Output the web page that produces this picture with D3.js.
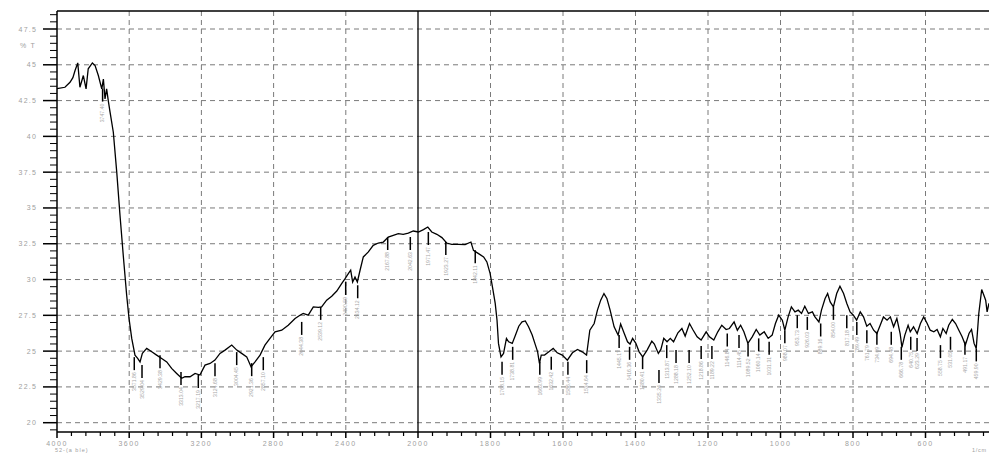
<!DOCTYPE html>
<html>
<head>
<meta charset="utf-8">
<script src="https://cdn.jsdelivr.net/npm/d3@7"></script>
<style>
  html, body { margin: 0; padding: 0; background: #fff; }
  svg { display: block; font-family: "Liberation Sans", Arial, sans-serif; }
</style>
</head>
<body>
<svg id="chart" width="989" height="453"></svg>
<script>
// IR transmittance spectrum: wavenumber (1/cm) vs %T
const wavenumbers = [
  4000, 3956, 3928, 3912, 3900, 3885, 3873, 3854, 3839, 3827, 3804, 3789, 3771, 3752, 3743, 3734, 3725, 3716, 3706, 3688,
  3669, 3651, 3633, 3614, 3601, 3586, 3568, 3553, 3540, 3527, 3503, 3475, 3448, 3420, 3392, 3365, 3337, 3309, 3291, 3263,
  3235, 3208, 3180, 3152, 3125, 3097, 3069, 3032, 3004, 2977, 2949, 2925, 2903, 2875, 2848, 2820, 2792, 2755, 2719, 2681,
  2654, 2636, 2608, 2580, 2552, 2534, 2506, 2478, 2450, 2423, 2404, 2386, 2373, 2362, 2349, 2336, 2321, 2303, 2275, 2248,
  2220, 2192, 2165, 2137, 2109, 2082, 2054, 2026, 1999, 1985, 1973, 1962, 1948, 1934, 1921, 1907, 1888, 1870, 1854, 1847,
  1833, 1819, 1810, 1801, 1793, 1787, 1782, 1778, 1771, 1764, 1756, 1750, 1740, 1731, 1722, 1713, 1704, 1695, 1685, 1676,
  1670, 1665, 1660, 1651, 1639, 1627, 1616, 1602, 1588, 1574, 1560, 1547, 1535, 1526, 1514, 1505, 1496, 1487, 1479, 1470,
  1459, 1448, 1441, 1431, 1422, 1415, 1408, 1399, 1390, 1380, 1368, 1355, 1348, 1337, 1330, 1322, 1313, 1304, 1295, 1283,
  1272, 1263, 1251, 1242, 1230, 1219, 1205, 1196, 1184, 1173, 1162, 1150, 1141, 1128, 1119, 1110, 1101, 1090, 1078, 1067,
  1057, 1045, 1034, 1023, 1014, 1005, 995, 988, 979, 970, 960, 951, 942, 933, 923, 912, 905, 894, 887, 877,
  870, 863, 854, 845, 836, 826, 817, 808, 799, 790, 780, 771, 762, 753, 743, 734, 725, 716, 706, 697,
  688, 679, 670, 665, 657, 648, 642, 633, 623, 614, 605, 596, 587, 577, 568, 559, 552, 543, 536, 526,
  517, 508, 499, 490, 480, 473, 466, 460, 453, 445, 439, 434, 430, 425, 421, 416
];
const transmittance = [
  43.33, 43.43, 43.78, 44.10, 44.60, 45.13, 43.43, 44.25, 43.32, 44.72, 45.13, 44.95, 44.25, 43.32, 44.00, 42.62, 43.32, 42.50, 41.69, 40.29,
  37.50, 34.49, 31.70, 28.90, 27.28, 25.89, 24.72, 24.49, 24.25, 24.84, 25.19, 24.95, 24.72, 24.49, 24.25, 23.79, 23.44, 23.10, 23.21, 23.21,
  23.44, 23.33, 24.02, 24.14, 24.37, 24.84, 25.07, 25.42, 25.07, 24.84, 24.60, 23.90, 24.25, 24.72, 25.42, 25.89, 26.35, 26.46, 26.81, 27.28,
  27.51, 27.63, 27.51, 28.09, 28.05, 28.09, 28.56, 28.84, 29.20, 29.72, 30.07, 30.42, 30.65, 29.83, 30.18, 29.83, 30.65, 31.58, 31.93, 32.39,
  32.55, 32.62, 32.97, 33.09, 33.21, 33.16, 33.25, 33.39, 33.32, 33.49, 33.67, 33.32, 33.16, 32.93, 32.55, 32.46, 32.46, 32.44, 32.62, 32.04,
  31.81, 31.58, 31.23, 30.42, 29.25, 28.33, 27.16, 25.54, 24.60, 24.84, 25.89, 25.65, 25.54, 26.12, 26.74, 27.04, 27.11, 26.70, 26.12, 25.42,
  24.95, 24.14, 24.72, 24.72, 24.95, 25.19, 24.88, 24.72, 24.37, 24.88, 25.12, 24.95, 24.72, 26.46, 26.93, 27.86, 28.56, 29.02, 28.68, 27.86,
  26.70, 26.12, 26.90, 26.23, 25.65, 25.49, 25.89, 25.54, 24.95, 24.60, 25.07, 25.70, 25.49, 24.84, 25.12, 25.89, 25.65, 25.89, 25.65, 26.28,
  26.58, 26.05, 26.93, 26.51, 26.00, 25.77, 26.35, 26.00, 25.77, 26.35, 26.81, 26.51, 26.58, 27.04, 26.46, 26.81, 26.35, 25.54, 26.00, 26.51,
  26.12, 26.35, 25.89, 26.12, 26.93, 27.51, 27.16, 26.46, 27.39, 28.09, 27.74, 27.86, 27.63, 28.14, 27.63, 27.74, 27.39, 27.04, 27.86, 28.68,
  29.02, 28.44, 28.09, 29.02, 29.53, 29.02, 28.33, 27.74, 27.51, 27.16, 27.74, 27.39, 26.74, 26.93, 26.46, 26.23, 26.81, 27.39, 27.16, 27.39,
  26.70, 27.28, 26.23, 25.26, 26.12, 26.81, 26.35, 26.70, 26.23, 26.93, 27.39, 26.97, 26.46, 26.35, 26.51, 26.00, 26.58, 26.23, 26.81, 27.21,
  26.93, 26.46, 26.00, 25.42, 26.23, 26.51, 25.54, 25.19, 27.63, 29.30, 28.90, 28.56, 27.74, 28.33, 27.98, 25.00
];

// picked peaks: position and %T at the marker
const peakWavenumbers = [
  3747.40, 3571.86, 3529.04, 3429.38, 3313.04, 3217.19, 3124.68, 3004.45, 2921.36, 2857.10,
  2644.38, 2539.12, 2400.59, 2334.12, 2167.88, 2042.63, 1971.47, 1923.27, 1842.11, 1768.15,
  1738.81, 1663.99, 1632.42, 1586.44, 1534.64, 1445.17, 1416.36, 1380.41, 1335.24, 1313.87,
  1288.18, 1252.10, 1218.86, 1189.22, 1146.84, 1114.45, 1089.52, 1060.14, 1031.31, 988.07,
  953.73, 926.03, 889.16, 854.00, 817.18, 789.49, 761.79, 734.09, 694.48, 666.78,
  640.75, 623.29, 558.75, 531.05, 491.17, 459.90
];
const peakTransmittance = [
  43.34, 24.58, 24.03, 24.72, 23.54, 23.33, 24.16, 24.93, 24.16, 24.58,
  27.04, 28.09, 29.83, 29.60, 32.97, 32.97, 33.32, 32.62, 32.04, 24.25,
  25.30, 24.25, 24.60, 24.25, 24.37, 26.12, 25.30, 24.65, 23.68, 25.42,
  25.07, 25.07, 25.35, 25.35, 26.23, 26.12, 25.54, 25.89, 25.65, 26.46,
  27.51, 27.39, 26.93, 28.09, 27.51, 27.04, 26.46, 26.35, 26.35, 25.30,
  26.00, 25.91, 25.42, 26.00, 25.65, 25.19
];

const xMajorTicks = [4000, 3600, 3200, 2800, 2400, 2000, 1800, 1600, 1400, 1200, 1000, 800, 600];
const yMajorTicks = [20, 22.5, 25, 27.5, 30, 32.5, 35, 37.5, 40, 42.5, 45, 47.5];
const yAxisTitle = "% T";
const xAxisTitle = "1/cm";
const sampleName = "52-(a ble)";

const svg = d3.select("#chart");
const W = 989, H = 453;
const plotLeft = 57, plotTop = 11, plotBottom = 432;

// wavenumber axis is expanded 2x below 2000 1/cm
const x = d3.scaleLinear().domain([4000, 2000, 400]).range([57, 418, 998]);
const y = d3.scaleLinear().domain([20, 47.5]).range([422.7, 29]);

const gridColor = "#7a7a7a";
const labelColor = "#a0a0a0";

// grid
const grid = svg.append("g");
grid.selectAll("line.hg").data(yMajorTicks).join("line")
  .attr("x1", plotLeft).attr("x2", W)
  .attr("y1", d => y(d)).attr("y2", d => y(d))
  .attr("stroke", gridColor).attr("stroke-width", 1).attr("stroke-dasharray", "5,4");
grid.selectAll("line.vg").data(xMajorTicks.filter(d => d !== 4000 && d !== 2000)).join("line")
  .attr("x1", d => x(d)).attr("x2", d => x(d))
  .attr("y1", plotTop).attr("y2", plotBottom)
  .attr("stroke", gridColor).attr("stroke-width", 1).attr("stroke-dasharray", "5,4");
// solid divider where the scale changes
svg.append("line")
  .attr("x1", x(2000)).attr("x2", x(2000)).attr("y1", plotTop).attr("y2", plotBottom)
  .attr("stroke", "#000").attr("stroke-width", 1.3);

// frame
svg.append("line").attr("x1", plotLeft).attr("x2", W).attr("y1", plotTop).attr("y2", plotTop)
  .attr("stroke", "#000").attr("stroke-width", 1.5);
svg.append("line").attr("x1", plotLeft).attr("x2", plotLeft).attr("y1", plotTop).attr("y2", plotBottom)
  .attr("stroke", "#000").attr("stroke-width", 1.5);
svg.append("line").attr("x1", plotLeft).attr("x2", W).attr("y1", plotBottom).attr("y2", plotBottom)
  .attr("stroke", "#000").attr("stroke-width", 1.5);

// y ticks
const yMinor = d3.range(19.5, 48.6, 0.5).filter(v => yMajorTicks.indexOf(v) < 0 && y(v) >= plotTop && y(v) <= plotBottom);
svg.append("g").selectAll("line").data(yMinor).join("line")
  .attr("x1", plotLeft - 7).attr("x2", plotLeft)
  .attr("y1", d => y(d)).attr("y2", d => y(d))
  .attr("stroke", "#000").attr("stroke-width", 1);
svg.append("g").selectAll("line").data(yMajorTicks).join("line")
  .attr("x1", plotLeft - 14).attr("x2", plotLeft)
  .attr("y1", d => y(d)).attr("y2", d => y(d))
  .attr("stroke", "#000").attr("stroke-width", 1.5);
svg.append("g").selectAll("text").data(yMajorTicks).join("text")
  .attr("x", 37).attr("y", d => y(d) + 2.5)
  .attr("text-anchor", "end")
  .attr("font-size", 7).attr("letter-spacing", 1.2)
  .attr("fill", labelColor)
  .text(d => d % 1 ? d.toFixed(1) : String(d));
svg.append("text").attr("x", 36).attr("y", 48)
  .attr("text-anchor", "end").attr("font-size", 7).attr("letter-spacing", 1.2)
  .attr("fill", labelColor).text(yAxisTitle);

// x ticks
const xMinor = d3.range(4000, 2000, -80).concat(d3.range(2000, 400, -40))
  .filter(v => xMajorTicks.indexOf(v) < 0);
svg.append("g").selectAll("line").data(xMinor).join("line")
  .attr("x1", d => x(d)).attr("x2", d => x(d))
  .attr("y1", plotBottom).attr("y2", plotBottom + 4)
  .attr("stroke", "#000").attr("stroke-width", 1.2);
svg.append("g").selectAll("line").data(xMajorTicks).join("line")
  .attr("x1", d => x(d)).attr("x2", d => x(d))
  .attr("y1", plotBottom).attr("y2", plotBottom + 6)
  .attr("stroke", "#000").attr("stroke-width", 1.5);
svg.append("g").selectAll("text").data(xMajorTicks).join("text")
  .attr("x", d => x(d)).attr("y", 446)
  .attr("text-anchor", "middle")
  .attr("font-size", 7).attr("letter-spacing", 1.5)
  .attr("fill", labelColor)
  .text(d => String(d));
svg.append("text").attr("x", 987).attr("y", 452)
  .attr("text-anchor", "end")
  .attr("font-size", 5.5).attr("letter-spacing", 0.8).attr("fill", labelColor).text(xAxisTitle);
svg.append("text").attr("x", 55).attr("y", 452)
  .attr("font-size", 5.5).attr("letter-spacing", 1).attr("fill", labelColor).text(sampleName);

// spectrum
const spectrum = wavenumbers.map((w, i) => [w, transmittance[i]]);
svg.append("path")
  .datum(spectrum)
  .attr("fill", "none")
  .attr("stroke", "#000")
  .attr("stroke-width", 1.3)
  .attr("stroke-linejoin", "miter")
  .attr("d", d3.line().x(d => x(d[0])).y(d => y(d[1])));

// peak markers and labels
const peaks = peakWavenumbers.map((w, i) => ({ w, t: peakTransmittance[i] }));
const markLen = 13;
const pk = svg.append("g");
pk.selectAll("line").data(peaks).join("line")
  .attr("x1", d => x(d.w)).attr("x2", d => x(d.w))
  .attr("y1", d => y(d.t)).attr("y2", d => y(d.t) + markLen)
  .attr("stroke", "#000").attr("stroke-width", 1.5);
pk.selectAll("text").data(peaks).join("text")
  .attr("transform", d => `translate(${x(d.w) + 1.8},${y(d.t) + markLen + 2}) rotate(-90)`)
  .attr("text-anchor", "end")
  .attr("font-size", 5.2)
  .attr("fill", "#a8a8a8")
  .text(d => d.w.toFixed(2));
</script>
</body>
</html>
